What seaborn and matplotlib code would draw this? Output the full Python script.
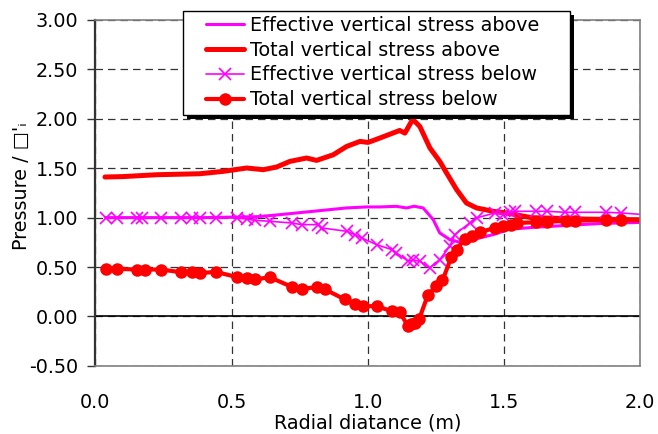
import numpy as np
import pandas as pd
import seaborn as sns
import matplotlib.pyplot as plt
from matplotlib.patches import Rectangle
from matplotlib.ticker import FormatStrFormatter

# Effective vertical stress above (plain magenta line)
eff_above_x = [0.038, 0.20, 0.40, 0.50, 0.60, 0.677, 0.80, 0.922, 0.995, 1.044, 1.105, 1.142,
               1.170, 1.203, 1.240, 1.264, 1.301, 1.338, 1.374, 1.411, 1.460, 1.497, 1.515,
               1.600, 1.717, 1.850, 2.016]
eff_above_y = [1.00, 1.00, 1.00, 1.005, 1.01, 1.03, 1.064, 1.098, 1.108, 1.108, 1.114, 1.098,
               1.115, 1.098, 0.98, 0.845, 0.778, 0.75, 0.761, 0.795, 0.828, 0.862, 0.88,
               0.90, 0.919, 0.94, 0.953]

# Total vertical stress above (thick red line)
tot_above_x = [0.035, 0.10, 0.225, 0.383, 0.469, 0.555, 0.616, 0.665, 0.714, 0.775, 0.812,
               0.873, 0.922, 0.971, 1.001, 1.044, 1.117, 1.136, 1.165, 1.191, 1.228, 1.264,
               1.289, 1.326, 1.362, 1.399, 1.460, 1.509, 1.600, 1.800, 2.016]
tot_above_y = [1.411, 1.415, 1.434, 1.444, 1.468, 1.502, 1.485, 1.512, 1.569, 1.603, 1.579,
               1.636, 1.72, 1.771, 1.761, 1.805, 1.882, 1.855, 1.995, 1.922, 1.704, 1.569,
               1.452, 1.283, 1.148, 1.098, 1.064, 1.047, 1.00, 0.985, 0.978]

# Effective vertical stress below (magenta with x markers)
eff_below_x = [0.038, 0.078, 0.153, 0.170, 0.240, 0.316, 0.353, 0.383, 0.442, 0.518, 0.555,
               0.585, 0.640, 0.720, 0.757, 0.818, 0.830, 0.922, 0.952, 0.977, 1.032, 1.087,
               1.105, 1.148, 1.165, 1.191, 1.228, 1.264, 1.301, 1.319, 1.374, 1.399, 1.466,
               1.497, 1.521, 1.539, 1.619, 1.656, 1.723, 1.760, 1.876, 1.931, 2.016]
eff_below_y = [1.00, 1.00, 1.00, 1.00, 1.00, 1.00, 1.00, 1.00, 1.00, 0.997, 0.985,
               0.973, 0.963, 0.946, 0.929, 0.929, 0.896, 0.862, 0.828, 0.795, 0.727, 0.677,
               0.643, 0.559, 0.570, 0.559, 0.492, 0.576, 0.710, 0.828, 0.946, 0.997, 1.047,
               1.030, 1.054, 1.064, 1.064, 1.064, 1.054, 1.054, 1.054, 1.047, 1.030]

# Total vertical stress below (red with circle markers)
tot_below_x = [0.038, 0.078, 0.153, 0.182, 0.240, 0.316, 0.353, 0.383, 0.442, 0.518, 0.555,
               0.585, 0.640, 0.720, 0.757, 0.812, 0.843, 0.916, 0.952, 0.983, 1.032, 1.087,
               1.117, 1.148, 1.160, 1.172, 1.188, 1.221, 1.252, 1.274, 1.307, 1.326, 1.356,
               1.381, 1.411, 1.466, 1.497, 1.527, 1.546, 1.619, 1.656, 1.729, 1.760, 1.876,
               1.931, 2.016]
tot_below_y = [0.482, 0.482, 0.475, 0.475, 0.475, 0.447, 0.447, 0.440, 0.450, 0.400, 0.394,
               0.374, 0.397, 0.300, 0.280, 0.296, 0.273, 0.172, 0.131, 0.104, 0.104, 0.054,
               0.043, -0.098, -0.080, -0.064, -0.030, 0.222, 0.306, 0.364, 0.603, 0.677, 0.785,
               0.811, 0.852, 0.896, 0.919, 0.929, 0.946, 0.953, 0.960, 0.965, 0.970, 0.975,
               0.975, 0.975]

labels = ['Effective vertical stress above', 'Total vertical stress above',
          'Effective vertical stress below', 'Total vertical stress below']

sns.set_style('white')
plt.rcParams['font.family'] = ['DejaVu Sans']
plt.rcParams.update({'text.color': 'black', 'axes.labelcolor': 'black',
                     'xtick.color': 'black', 'ytick.color': 'black'})
FS = 13.8
W, H = 658, 434

fig = plt.figure(figsize=(6.58, 4.34), dpi=100)
ax = fig.add_axes([0.145, 0.157, 0.828, 0.797])

sns.lineplot(x=eff_above_x, y=eff_above_y, ax=ax, color='#FF00FF', lw=2.2,
             sort=False, estimator=None, label=labels[0])
sns.lineplot(x=tot_above_x, y=tot_above_y, ax=ax, color='#FF0000', lw=3.6,
             sort=False, estimator=None, label=labels[1])
sns.lineplot(x=eff_below_x, y=eff_below_y, ax=ax, color='#FF00FF', lw=1.2,
             marker='x', markersize=9, markeredgewidth=1.2, markeredgecolor='#FF00FF',
             markevery=list(range(len(eff_below_x) - 1)),
             sort=False, estimator=None, label=labels[2])
sns.lineplot(x=tot_below_x, y=tot_below_y, ax=ax, color='#FF0000', lw=3.0,
             marker='o', markersize=9, markeredgewidth=0,
             markevery=list(range(len(tot_below_x) - 1)),
             sort=False, estimator=None, label=labels[3])

ax.set_xlim(0, 2.0)
ax.set_ylim(-0.5, 3.0)
ax.set_xticks([0, 0.5, 1.0, 1.5, 2.0])
ax.set_yticks(np.arange(-0.5, 3.01, 0.5))
ax.xaxis.set_major_formatter(FormatStrFormatter('%.1f'))
ax.yaxis.set_major_formatter(FormatStrFormatter('%.2f'))

ax.grid(True, color='#333333', linestyle=(0, (6, 4)), linewidth=0.9)
ax.axhline(0, color='black', lw=1.2, zorder=1)

for side in ['top', 'right', 'bottom']:
    ax.spines[side].set_color('#808080')
    ax.spines[side].set_linewidth(1.2)
ax.spines['left'].set_color('#333333')
ax.spines['left'].set_linewidth(1.6)

ax.tick_params(axis='y', left=True, length=6, width=1, color='#333333',
               labelsize=FS, pad=6.5)
ax.tick_params(axis='x', bottom=False, labelsize=FS, pad=16)

ax.set_xlabel('Radial diatance (m)', fontsize=FS, labelpad=1)
ax.set_ylabel("Pressure / \u25a1'\u1d62", fontsize=FS)
ax.yaxis.set_label_coords(-0.118, 0.52)

# legend: box drawn by hand (Excel style, wide side margins, solid shadow)
handles, labs = ax.get_legend_handles_labels()
ax.get_legend().remove()
box_l, box_t, box_r, box_b = 183, 11, 570, 115
fig.patches.append(Rectangle((((box_l + 4) / W), 1 - (box_b + 4) / H),
                             (box_r - box_l) / W, (box_b - box_t) / H,
                             transform=fig.transFigure, facecolor='black',
                             edgecolor='none', zorder=3.8))
fig.patches.append(Rectangle((box_l / W, 1 - box_b / H),
                             (box_r - box_l) / W, (box_b - box_t) / H,
                             transform=fig.transFigure, facecolor='white',
                             edgecolor='black', lw=1.0, zorder=3.9))
leg = fig.legend(handles, labs, loc='upper left',
                 bbox_to_anchor=(206 / W, 1 - 16 / H), borderaxespad=0,
                 fontsize=FS, frameon=False, handlelength=2.0, handletextpad=0.3,
                 labelspacing=0.3, borderpad=0)
leg.set_zorder(5)

fig.savefig('out.png', dpi=100)
